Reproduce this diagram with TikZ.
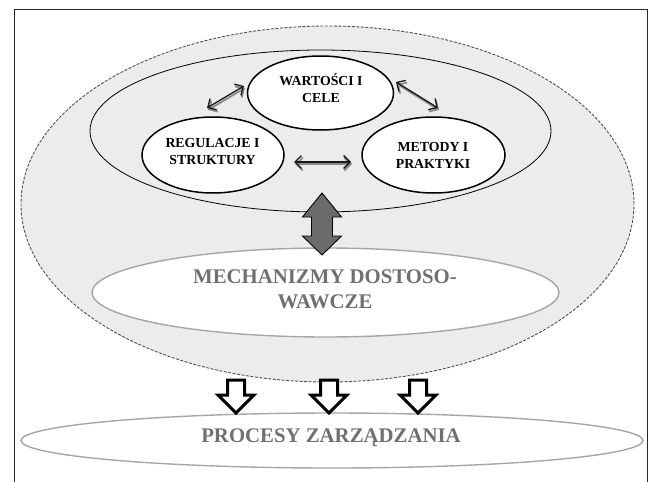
\documentclass[tikz,border=0pt]{standalone}
\usepackage{fontspec}
\setmainfont{Liberation Serif}
\usetikzlibrary{arrows.meta,shapes.geometric,calc}

\definecolor{areagray}{HTML}{ECECEE}
\definecolor{dashgray}{HTML}{505050}
\definecolor{rimgray}{HTML}{A6A6A6}
\definecolor{labelgray}{HTML}{707070}
\definecolor{blockgray}{HTML}{6B6B6B}
\definecolor{shadowgray}{HTML}{8C8C8C}

\tikzset{
  frameline/.style={draw=black!85, line width=0.9pt},
  outerzone/.style={ellipse, draw=dashgray, fill=areagray, line width=0.9pt,
    dash pattern=on 3pt off 1.5pt, inner sep=0pt},
  innerzone/.style={ellipse, draw=black, line width=0.8pt, inner sep=0pt},
  corebox/.style={ellipse, draw=black, fill=white, line width=1.5pt, inner sep=0pt},
  coretext/.style={align=center, font=\bfseries\fontsize{13.8}{16.5}\selectfont, inner sep=0pt},
  softbox/.style={ellipse, draw=rimgray, fill=white, line width=1.4pt, inner sep=0pt},
  softtext/.style={align=center, text=labelgray, font=\bfseries\fontsize{20.8}{25}\selectfont, inner sep=0pt},
  twoway/.style={draw=black!90, line width=1.3pt,
    {Straight Barb[length=6.5pt,width=13pt,line width=1.3pt]}-{Straight Barb[length=6.5pt,width=13pt,line width=1.3pt]}},
  twowayshadow/.style={draw=shadowgray, line width=1.8pt,
    {Straight Barb[length=6.5pt,width=13pt,line width=1.8pt]}-{Straight Barb[length=6.5pt,width=13pt,line width=1.8pt]}},
  bigblock/.style={draw=black, fill=blockgray, line width=0.9pt, line join=miter},
  downblock/.style={draw=black, fill=white, line width=3pt, line join=miter},
}

\begin{document}
\begin{tikzpicture}[x=1pt,y=-1pt]
\useasboundingbox (0,0) rectangle (651,482);

% page frame, open at the bottom
\draw[frameline] (14,482) -- (14,9) -- (647,9) -- (647,482);

% shared culture zone (dashed) and its core ring
\node[outerzone, minimum width=613pt, minimum height=356pt] (outer) at (327.5,204) {};
\node[innerzone, minimum width=461pt, minimum height=162pt] (inner) at (320.5,131) {};

% the three core elements
\node[corebox, minimum width=146pt, minimum height=74pt] (wart) at (320.5,93) {};
\node[corebox, minimum width=142pt, minimum height=76pt] (reg) at (213,155) {};
\node[corebox, minimum width=143pt, minimum height=76pt] (met) at (433.5,155) {};
\node[coretext] (wartT) at (321,88) {WARTOŚCI I\\CELE};
\node[coretext] (regT) at (212.5,151.5) {REGULACJE I\\STRUKTURY};
\node[coretext] (metT) at (433,155.5) {METODY I\\PRAKTYKI};

% mutual links between the core elements
\coordinate (wr1) at (207,108); \coordinate (wr2) at (244,86);
\coordinate (wm1) at (396,82);  \coordinate (wm2) at (438,108);
\coordinate (rm1) at (294,162); \coordinate (rm2) at (351,162);
\foreach \a/\b in {wr1/wr2, wm1/wm2, rm1/rm2}{
  \draw[twowayshadow] ([shift={(1,2)}]\a) -- ([shift={(1,2)}]\b);
  \draw[twoway] (\a) -- (\b);
}

% adaptation mechanisms
\node[softbox, minimum width=467pt, minimum height=89pt] (mech) at (325.5,292.5) {};
\node[softtext] (mechT) at (325,289.5) {MECHANIZMY DOSTOSO-\\WAWCZE};

% two-way block arrow between the core ring and the mechanisms
\coordinate (bt) at (322,193);
\draw[bigblock] (bt) -- ++(19.5,24) -- ++(-9,0) -- ++(0,19) -- ++(9,0)
  -- ++(-19.5,19) -- ++(-19.5,-19) -- ++(9,0) -- ++(0,-19) -- ++(-9,0) -- cycle;

% management processes
\node[softbox, minimum width=622pt, minimum height=55pt] (proc) at (332,440.5) {};
\node[softtext] (procT) at (331,438) {PROCESY ZARZĄDZANIA};

% three downward block arrows into the processes
\coordinate (d1) at (236,380);
\coordinate (d2) at (329,380);
\coordinate (d3) at (418,380);
\foreach \d in {d1,d2,d3}{
  \draw[downblock] (\d) ++(-8.5,0) -- ++(17,0) -- ++(0,15) -- ++(9.5,0)
    -- ++(-18,18) -- ++(-18,-18) -- ++(9.5,0) -- cycle;
}
\end{tikzpicture}
\end{document}
